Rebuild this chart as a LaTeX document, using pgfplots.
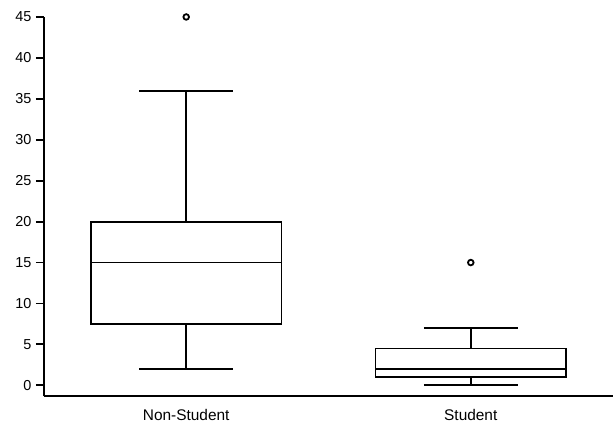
\documentclass[border=0pt]{standalone}
\usepackage{fontspec}
\setmainfont{Liberation Sans}
\usepackage{pgfplots}
\pgfplotsset{compat=1.18}
\usepgfplotslibrary{statistics}
\usetikzlibrary{calc}
\begin{document}
\begin{tikzpicture}
\begin{axis}[
  scale only axis,
  width=570bp, height=380bp,
  xmin=-0.5, xmax=1.5,
  ymin=-1.35, ymax=45,
  boxplot/draw direction=y,
  boxplot/every box/.style={draw=black, line width=1.8bp},
  boxplot/every whisker/.style={black, line width=1.8bp},
  boxplot/every median/.style={black, line width=1.8bp},
  boxplot/draw/median/.code={%
    \draw[black, line width=1.8bp]
      (boxplot box cs:\pgfplotsboxplotvalue{median},0) --
      (boxplot box cs:\pgfplotsboxplotvalue{median},1);
  },
  axis x line*=bottom,
  axis y line*=left,
  axis line style={line width=1.9bp, -},
  xtick={0,1},
  xticklabels={Non-Student, Student},
  x tick style={draw=none},
  ytick={0,5,...,45},
  tick align=outside,
  major tick length=8bp,
  y tick style={line width=1.9bp, black},
  yticklabel style={xshift=-1bp, font=\fontsize{14.5}{16}\selectfont},
  xticklabel style={yshift=-1bp, font=\fontsize{15.5}{17}\selectfont},
  /pgf/number format/assume math mode=true,
  clip=false,
]
\addplot+[boxplot prepared={draw position=0, lower whisker=2, lower quartile=7.5, median=15, upper quartile=20, upper whisker=36, box extend=0.67, whisker extend=0.33},
  black, line width=1.8bp, solid, mark=o, mark size=2.8bp, mark options={line width=1.8bp, black}]
  table[row sep=\\, y index=0] {45\\};
\addplot+[boxplot prepared={draw position=1, lower whisker=0, lower quartile=1, median=2, upper quartile=4.5, upper whisker=7, box extend=0.67, whisker extend=0.33},
  black, line width=1.8bp, solid, mark=o, mark size=2.8bp, mark options={line width=1.8bp, black}]
  table[row sep=\\, y index=0] {15\\};
\end{axis}
\path (current axis.south west) ++(-44bp,-25bp) rectangle ($(current axis.north east)+(0,17bp)$);
\end{tikzpicture}
\end{document}
